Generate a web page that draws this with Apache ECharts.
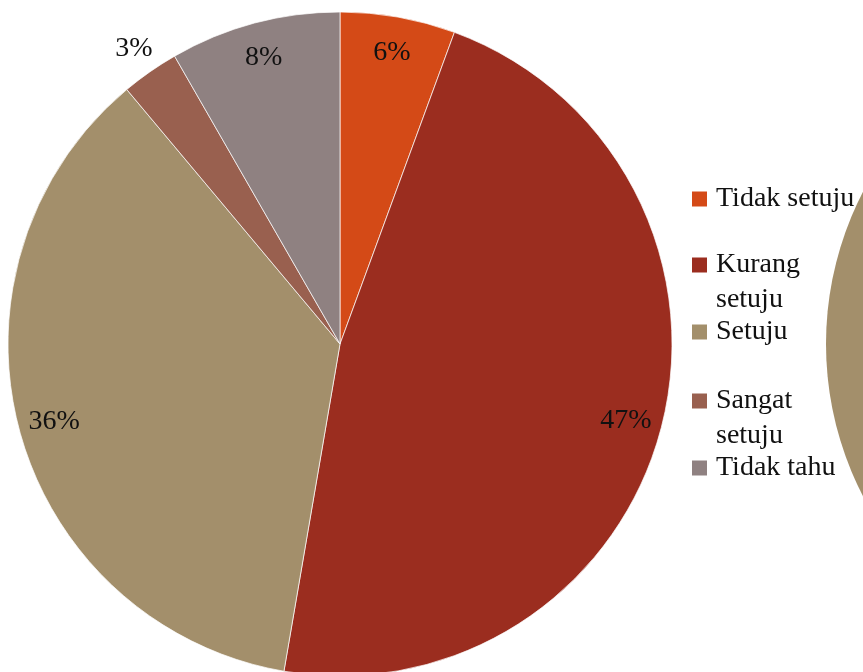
<!DOCTYPE html>
<html>
<head>
<meta charset="utf-8">
<title>Pie</title>
<script src="https://cdn.jsdelivr.net/npm/echarts@6/dist/echarts.min.js"></script>
<style>
    html, body { margin: 0; padding: 0; background: #fff; }
    #chart { width: 863px; height: 672px; }
</style>
</head>
<body>
<div id="chart"></div>
<script>
// Categories and shares (percent)
const categories = ['Tidak setuju', 'Kurang setuju', 'Setuju', 'Sangat setuju', 'Tidak tahu'];
const legendLabels = ['Tidak setuju', 'Kurang\nsetuju', 'Setuju', 'Sangat\nsetuju', 'Tidak tahu'];
const shares = [5.6, 47.1, 36.2, 2.8, 8.3];
const colors = ['#D44A17', '#9B2D1F', '#A38F6B', '#99604F', '#8F8181'];

// Edge of the neighbouring pie that shows at the right border
const nextPieNames = ['Setuju'];
const nextPieValues = [100];

const FONT = '"Liberation Serif", "DejaVu Serif", serif';
const CENTER = [340, 344];
const RADIUS = 332;

const chart = echarts.init(document.getElementById('chart'), null, { renderer: 'canvas' });

const pieData = categories.map((name, i) => ({
    name: name,
    value: shares[i],
    itemStyle: { color: colors[i] }
}));

// Centre line of each legend row (first text line)
const legendRows = [199, 265, 332, 401, 468];

function percentLabel(p) {
    return Math.round(p.percent) + '%';
}

// Transparent ring that only carries labels at a given radius
function labelRing(inner, outer, showIndex) {
    return {
        type: 'pie',
        center: CENTER,
        radius: [inner, outer],
        startAngle: 90,
        clockwise: true,
        silent: true,
        z: 5,
        emphasis: { disabled: true },
        itemStyle: { color: 'transparent', borderWidth: 0 },
        label: {
            position: 'inside',
            formatter: percentLabel,
            color: '#111',
            fontFamily: FONT,
            fontSize: 28
        },
        labelLine: { show: false },
        data: categories.map((name, i) => ({
            name: name,
            value: shares[i],
            label: { show: showIndex(i) }
        }))
    };
}

const legends = categories.map((name, i) => {
    const twoLines = legendLabels[i].indexOf('\n') >= 0;
    // a blank first line keeps the icon level with the first word
    const text = twoLines ? ' \n' + legendLabels[i] : legendLabels[i];
    return {
        orient: 'vertical',
        left: 692,
        top: twoLines ? legendRows[i] - 52.5 : legendRows[i] - 17.5,
        padding: 0,
        itemWidth: 15,
        itemHeight: 15,
        itemGap: 0,
        icon: 'rect',
        itemStyle: { borderWidth: 0 },
        selectedMode: false,
        data: [name],
        formatter: () => text,
        textStyle: {
            fontFamily: FONT,
            fontSize: 28,
            color: '#111',
            lineHeight: 35,
            padding: [0, 0, 0, 4]
        }
    };
});

const option = {
    backgroundColor: '#fff',
    animation: false,
    legend: legends,
    series: [
        {
            name: 'main',
            type: 'pie',
            center: CENTER,
            radius: [0, RADIUS],
            startAngle: 90,
            clockwise: true,
            silent: true,
            itemStyle: { borderColor: 'rgba(255,255,255,0.7)', borderWidth: 1 },
            label: { show: false },
            labelLine: { show: false },
            data: pieData
        },
        {
            name: 'next',
            type: 'pie',
            center: [1158, 344],
            radius: [0, RADIUS],
            silent: true,
            itemStyle: { color: colors[2] },
            label: { show: false },
            labelLine: { show: false },
            data: nextPieNames.map((n, i) => ({ name: n, value: nextPieValues[i] }))
        },
        // Labels inside the slices
        labelRing(280, 306, i => i !== 3),
        // Small slice label sits outside the pie
        labelRing(344, 370, i => i === 3)
    ]
};

chart.setOption(option);

window.addEventListener('resize', () => chart.resize());
</script>
</body>
</html>
